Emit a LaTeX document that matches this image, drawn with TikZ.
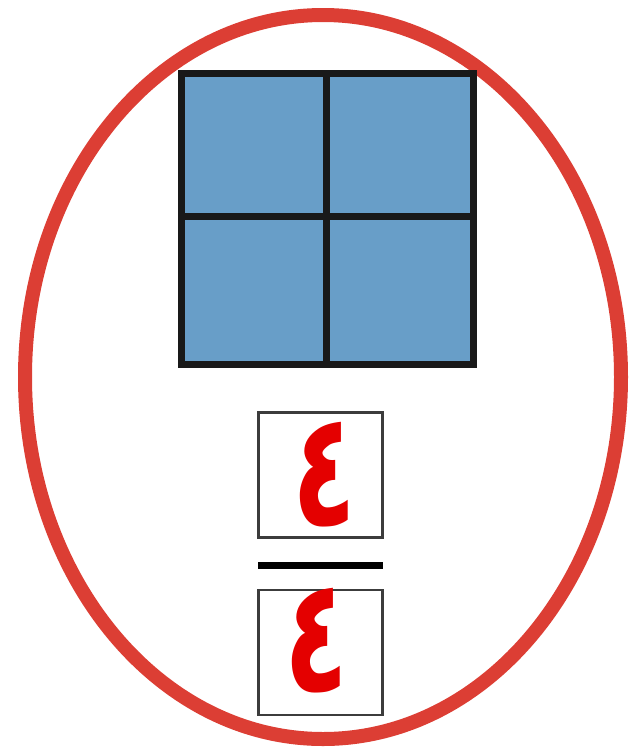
\documentclass[tikz,border=0pt]{standalone}
\usepackage{fontspec}
\newfontfamily\arabicfont[Script=Arabic]{DejaVu Sans}
\TeXXeTstate=1
\definecolor{ringred}{RGB}{220,62,52}
\definecolor{cellblue}{RGB}{104,158,200}
\definecolor{digitred}{RGB}{228,0,0}
\definecolor{boxgray}{RGB}{60,60,60}
\tikzset{
  ring/.style={draw=ringred,line width=14pt},
  cell/.style={fill=cellblue,draw=black!90,line width=7pt},
  numbox/.style={draw=boxgray,line width=2.5pt,fill=white},
  digit/.style={text=digitred,font=\arabicfont\bfseries\fontsize{100}{110}\selectfont,inner sep=0pt},
  fracbar/.style={draw=black,line width=7pt}
}
\begin{document}
\begin{tikzpicture}[x=1pt,y=-1pt]
\useasboundingbox (0,0) rectangle (636,747);
\draw[ring] (323,377) ellipse [x radius=298, y radius=362];
\path[cell] (181,73) rectangle (473,364);
\draw[black!90,line width=7pt] (326,73) -- (326,364);
\draw[black!90,line width=7pt] (181,216) -- (473,216);
\node[numbox,minimum width=124pt,minimum height=125pt] (top) at (320.5,475) {};
\node[numbox,minimum width=124pt,minimum height=125pt] (bot) at (320.5,652.5) {};
\coordinate (barL) at (258,565.5);
\coordinate (barR) at (383,565.5);
\draw[fracbar] (barL) -- (barR);
\node[digit] (numtxt) at (325,475) {\scalebox{1.05}[1.6]{\beginR ٤\endR}};
\node[digit] (dentxt) at (317,641) {\scalebox{1.05}[1.6]{\beginR ٤\endR}};
\end{tikzpicture}
\end{document}
